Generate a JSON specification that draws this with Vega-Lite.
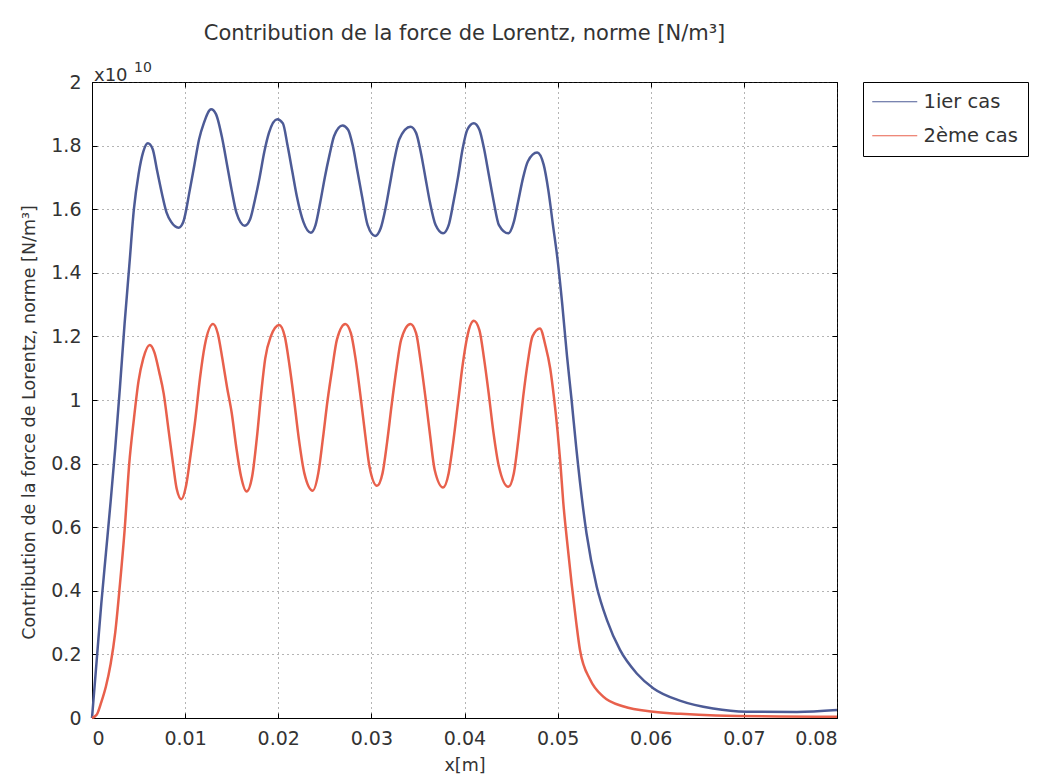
{
  "$schema": "https://vega.github.io/schema/vega-lite/v6.json",
  "width": 745,
  "height": 636,
  "autosize": "none",
  "padding": {"left": 92, "top": 82, "right": 201, "bottom": 59},
  "background": "white",
  "config": {
    "font": "DejaVu Sans",
    "view": {"stroke": "black", "strokeWidth": 1},
    "axis": {
      "domainColor": "black",
      "tickColor": "black",
      "labelColor": "#333",
      "titleColor": "#333",
      "labelFont": "DejaVu Sans",
      "titleFont": "DejaVu Sans",
      "labelFontSize": 19,
      "titleFontSize": 17.5,
      "titleFontWeight": "normal",
      "gridColor": "#444",
      "gridDash": [1, 4],
      "gridWidth": 1,
      "gridOpacity": 0.8
    }
  },
  "title": {
    "text": "Contribution de la force de Lorentz, norme [N/m³]",
    "font": "DejaVu Sans",
    "fontSize": 21,
    "fontWeight": "normal",
    "color": "#333",
    "anchor": "middle",
    "offset": 17
  },
  "data": {
    "values": [
      {"x": 0, "y": 0, "cas": "1ier cas"},
      {"x": 0.0005, "y": 0.18, "cas": "1ier cas"},
      {"x": 0.001, "y": 0.36, "cas": "1ier cas"},
      {"x": 0.0015, "y": 0.52, "cas": "1ier cas"},
      {"x": 0.002, "y": 0.68, "cas": "1ier cas"},
      {"x": 0.0025, "y": 0.85, "cas": "1ier cas"},
      {"x": 0.003, "y": 1.04, "cas": "1ier cas"},
      {"x": 0.0035, "y": 1.24, "cas": "1ier cas"},
      {"x": 0.004, "y": 1.42, "cas": "1ier cas"},
      {"x": 0.0045, "y": 1.6, "cas": "1ier cas"},
      {"x": 0.005, "y": 1.71, "cas": "1ier cas"},
      {"x": 0.0055, "y": 1.78, "cas": "1ier cas"},
      {"x": 0.006, "y": 1.807, "cas": "1ier cas"},
      {"x": 0.0065, "y": 1.79, "cas": "1ier cas"},
      {"x": 0.007, "y": 1.72, "cas": "1ier cas"},
      {"x": 0.0075, "y": 1.65, "cas": "1ier cas"},
      {"x": 0.008, "y": 1.59, "cas": "1ier cas"},
      {"x": 0.0085, "y": 1.56, "cas": "1ier cas"},
      {"x": 0.0093, "y": 1.542, "cas": "1ier cas"},
      {"x": 0.0098, "y": 1.56, "cas": "1ier cas"},
      {"x": 0.0105, "y": 1.66, "cas": "1ier cas"},
      {"x": 0.011, "y": 1.74, "cas": "1ier cas"},
      {"x": 0.0115, "y": 1.82, "cas": "1ier cas"},
      {"x": 0.012, "y": 1.87, "cas": "1ier cas"},
      {"x": 0.0128, "y": 1.914, "cas": "1ier cas"},
      {"x": 0.0133, "y": 1.9, "cas": "1ier cas"},
      {"x": 0.014, "y": 1.82, "cas": "1ier cas"},
      {"x": 0.0145, "y": 1.74, "cas": "1ier cas"},
      {"x": 0.015, "y": 1.66, "cas": "1ier cas"},
      {"x": 0.0155, "y": 1.59, "cas": "1ier cas"},
      {"x": 0.0164, "y": 1.548, "cas": "1ier cas"},
      {"x": 0.017, "y": 1.57, "cas": "1ier cas"},
      {"x": 0.0175, "y": 1.63, "cas": "1ier cas"},
      {"x": 0.018, "y": 1.7, "cas": "1ier cas"},
      {"x": 0.0185, "y": 1.78, "cas": "1ier cas"},
      {"x": 0.019, "y": 1.84, "cas": "1ier cas"},
      {"x": 0.0199, "y": 1.883, "cas": "1ier cas"},
      {"x": 0.0205, "y": 1.87, "cas": "1ier cas"},
      {"x": 0.021, "y": 1.8, "cas": "1ier cas"},
      {"x": 0.0215, "y": 1.72, "cas": "1ier cas"},
      {"x": 0.022, "y": 1.64, "cas": "1ier cas"},
      {"x": 0.0227, "y": 1.56, "cas": "1ier cas"},
      {"x": 0.0235, "y": 1.526, "cas": "1ier cas"},
      {"x": 0.024, "y": 1.55, "cas": "1ier cas"},
      {"x": 0.0245, "y": 1.62, "cas": "1ier cas"},
      {"x": 0.025, "y": 1.7, "cas": "1ier cas"},
      {"x": 0.0255, "y": 1.77, "cas": "1ier cas"},
      {"x": 0.026, "y": 1.83, "cas": "1ier cas"},
      {"x": 0.0269, "y": 1.863, "cas": "1ier cas"},
      {"x": 0.0275, "y": 1.85, "cas": "1ier cas"},
      {"x": 0.028, "y": 1.8, "cas": "1ier cas"},
      {"x": 0.0285, "y": 1.72, "cas": "1ier cas"},
      {"x": 0.029, "y": 1.64, "cas": "1ier cas"},
      {"x": 0.0296, "y": 1.55, "cas": "1ier cas"},
      {"x": 0.0304, "y": 1.516, "cas": "1ier cas"},
      {"x": 0.031, "y": 1.54, "cas": "1ier cas"},
      {"x": 0.0315, "y": 1.6, "cas": "1ier cas"},
      {"x": 0.032, "y": 1.68, "cas": "1ier cas"},
      {"x": 0.0325, "y": 1.76, "cas": "1ier cas"},
      {"x": 0.033, "y": 1.82, "cas": "1ier cas"},
      {"x": 0.0342, "y": 1.859, "cas": "1ier cas"},
      {"x": 0.0348, "y": 1.84, "cas": "1ier cas"},
      {"x": 0.0353, "y": 1.78, "cas": "1ier cas"},
      {"x": 0.0358, "y": 1.7, "cas": "1ier cas"},
      {"x": 0.0363, "y": 1.62, "cas": "1ier cas"},
      {"x": 0.0369, "y": 1.55, "cas": "1ier cas"},
      {"x": 0.0377, "y": 1.524, "cas": "1ier cas"},
      {"x": 0.0383, "y": 1.55, "cas": "1ier cas"},
      {"x": 0.0388, "y": 1.62, "cas": "1ier cas"},
      {"x": 0.0393, "y": 1.7, "cas": "1ier cas"},
      {"x": 0.0398, "y": 1.79, "cas": "1ier cas"},
      {"x": 0.0403, "y": 1.85, "cas": "1ier cas"},
      {"x": 0.041, "y": 1.87, "cas": "1ier cas"},
      {"x": 0.0416, "y": 1.85, "cas": "1ier cas"},
      {"x": 0.0421, "y": 1.79, "cas": "1ier cas"},
      {"x": 0.0426, "y": 1.71, "cas": "1ier cas"},
      {"x": 0.0431, "y": 1.63, "cas": "1ier cas"},
      {"x": 0.0437, "y": 1.55, "cas": "1ier cas"},
      {"x": 0.0447, "y": 1.524, "cas": "1ier cas"},
      {"x": 0.0453, "y": 1.56, "cas": "1ier cas"},
      {"x": 0.0458, "y": 1.63, "cas": "1ier cas"},
      {"x": 0.0463, "y": 1.7, "cas": "1ier cas"},
      {"x": 0.0468, "y": 1.75, "cas": "1ier cas"},
      {"x": 0.0478, "y": 1.778, "cas": "1ier cas"},
      {"x": 0.0485, "y": 1.74, "cas": "1ier cas"},
      {"x": 0.049, "y": 1.66, "cas": "1ier cas"},
      {"x": 0.0495, "y": 1.55, "cas": "1ier cas"},
      {"x": 0.05, "y": 1.44, "cas": "1ier cas"},
      {"x": 0.0505, "y": 1.3, "cas": "1ier cas"},
      {"x": 0.051, "y": 1.14, "cas": "1ier cas"},
      {"x": 0.0515, "y": 1.0, "cas": "1ier cas"},
      {"x": 0.052, "y": 0.85, "cas": "1ier cas"},
      {"x": 0.0531, "y": 0.581, "cas": "1ier cas"},
      {"x": 0.0542, "y": 0.413, "cas": "1ier cas"},
      {"x": 0.0553, "y": 0.308, "cas": "1ier cas"},
      {"x": 0.0567, "y": 0.214, "cas": "1ier cas"},
      {"x": 0.0585, "y": 0.14, "cas": "1ier cas"},
      {"x": 0.0603, "y": 0.093, "cas": "1ier cas"},
      {"x": 0.0632, "y": 0.054, "cas": "1ier cas"},
      {"x": 0.0667, "y": 0.03, "cas": "1ier cas"},
      {"x": 0.0703, "y": 0.02, "cas": "1ier cas"},
      {"x": 0.0757, "y": 0.019, "cas": "1ier cas"},
      {"x": 0.08, "y": 0.025, "cas": "1ier cas"},
      {"x": 0, "y": 0, "cas": "2ème cas"},
      {"x": 0.0005, "y": 0.01, "cas": "2ème cas"},
      {"x": 0.001, "y": 0.05, "cas": "2ème cas"},
      {"x": 0.0015, "y": 0.1, "cas": "2ème cas"},
      {"x": 0.002, "y": 0.17, "cas": "2ème cas"},
      {"x": 0.0025, "y": 0.27, "cas": "2ème cas"},
      {"x": 0.003, "y": 0.42, "cas": "2ème cas"},
      {"x": 0.0035, "y": 0.59, "cas": "2ème cas"},
      {"x": 0.004, "y": 0.8, "cas": "2ème cas"},
      {"x": 0.0045, "y": 0.94, "cas": "2ème cas"},
      {"x": 0.005, "y": 1.06, "cas": "2ème cas"},
      {"x": 0.0055, "y": 1.13, "cas": "2ème cas"},
      {"x": 0.0062, "y": 1.173, "cas": "2ème cas"},
      {"x": 0.0067, "y": 1.15, "cas": "2ème cas"},
      {"x": 0.0072, "y": 1.09, "cas": "2ème cas"},
      {"x": 0.0077, "y": 1.02, "cas": "2ème cas"},
      {"x": 0.0082, "y": 0.91, "cas": "2ème cas"},
      {"x": 0.0087, "y": 0.8, "cas": "2ème cas"},
      {"x": 0.0091, "y": 0.72, "cas": "2ème cas"},
      {"x": 0.0096, "y": 0.688, "cas": "2ème cas"},
      {"x": 0.0101, "y": 0.73, "cas": "2ème cas"},
      {"x": 0.0106, "y": 0.83, "cas": "2ème cas"},
      {"x": 0.0111, "y": 0.94, "cas": "2ème cas"},
      {"x": 0.0116, "y": 1.07, "cas": "2ème cas"},
      {"x": 0.0121, "y": 1.17, "cas": "2ème cas"},
      {"x": 0.013, "y": 1.239, "cas": "2ème cas"},
      {"x": 0.0135, "y": 1.21, "cas": "2ème cas"},
      {"x": 0.014, "y": 1.13, "cas": "2ème cas"},
      {"x": 0.0145, "y": 1.04, "cas": "2ème cas"},
      {"x": 0.015, "y": 0.96, "cas": "2ème cas"},
      {"x": 0.0155, "y": 0.85, "cas": "2ème cas"},
      {"x": 0.016, "y": 0.76, "cas": "2ème cas"},
      {"x": 0.0166, "y": 0.712, "cas": "2ème cas"},
      {"x": 0.0172, "y": 0.76, "cas": "2ème cas"},
      {"x": 0.0177, "y": 0.88, "cas": "2ème cas"},
      {"x": 0.0182, "y": 1.03, "cas": "2ème cas"},
      {"x": 0.0186, "y": 1.13, "cas": "2ème cas"},
      {"x": 0.0192, "y": 1.2, "cas": "2ème cas"},
      {"x": 0.0201, "y": 1.236, "cas": "2ème cas"},
      {"x": 0.0207, "y": 1.2, "cas": "2ème cas"},
      {"x": 0.0212, "y": 1.11, "cas": "2ème cas"},
      {"x": 0.0217, "y": 1.0, "cas": "2ème cas"},
      {"x": 0.0222, "y": 0.88, "cas": "2ème cas"},
      {"x": 0.0228, "y": 0.77, "cas": "2ème cas"},
      {"x": 0.0237, "y": 0.715, "cas": "2ème cas"},
      {"x": 0.0243, "y": 0.77, "cas": "2ème cas"},
      {"x": 0.0248, "y": 0.88, "cas": "2ème cas"},
      {"x": 0.0253, "y": 1.0, "cas": "2ème cas"},
      {"x": 0.0258, "y": 1.1, "cas": "2ème cas"},
      {"x": 0.0263, "y": 1.19, "cas": "2ème cas"},
      {"x": 0.0272, "y": 1.239, "cas": "2ème cas"},
      {"x": 0.0278, "y": 1.21, "cas": "2ème cas"},
      {"x": 0.0283, "y": 1.13, "cas": "2ème cas"},
      {"x": 0.0288, "y": 1.02, "cas": "2ème cas"},
      {"x": 0.0293, "y": 0.9, "cas": "2ème cas"},
      {"x": 0.0298, "y": 0.79, "cas": "2ème cas"},
      {"x": 0.0306, "y": 0.73, "cas": "2ème cas"},
      {"x": 0.0312, "y": 0.77, "cas": "2ème cas"},
      {"x": 0.0317, "y": 0.87, "cas": "2ème cas"},
      {"x": 0.0322, "y": 0.99, "cas": "2ème cas"},
      {"x": 0.0327, "y": 1.1, "cas": "2ème cas"},
      {"x": 0.0332, "y": 1.19, "cas": "2ème cas"},
      {"x": 0.0342, "y": 1.239, "cas": "2ème cas"},
      {"x": 0.0348, "y": 1.21, "cas": "2ème cas"},
      {"x": 0.0353, "y": 1.12, "cas": "2ème cas"},
      {"x": 0.0358, "y": 1.01, "cas": "2ème cas"},
      {"x": 0.0363, "y": 0.89, "cas": "2ème cas"},
      {"x": 0.0368, "y": 0.78, "cas": "2ème cas"},
      {"x": 0.0377, "y": 0.725, "cas": "2ème cas"},
      {"x": 0.0383, "y": 0.77, "cas": "2ème cas"},
      {"x": 0.0388, "y": 0.87, "cas": "2ème cas"},
      {"x": 0.0393, "y": 0.99, "cas": "2ème cas"},
      {"x": 0.0398, "y": 1.11, "cas": "2ème cas"},
      {"x": 0.0403, "y": 1.2, "cas": "2ème cas"},
      {"x": 0.041, "y": 1.249, "cas": "2ème cas"},
      {"x": 0.0416, "y": 1.22, "cas": "2ème cas"},
      {"x": 0.0421, "y": 1.13, "cas": "2ème cas"},
      {"x": 0.0426, "y": 1.02, "cas": "2ème cas"},
      {"x": 0.0431, "y": 0.9, "cas": "2ème cas"},
      {"x": 0.0437, "y": 0.79, "cas": "2ème cas"},
      {"x": 0.0447, "y": 0.727, "cas": "2ème cas"},
      {"x": 0.0453, "y": 0.77, "cas": "2ème cas"},
      {"x": 0.0458, "y": 0.88, "cas": "2ème cas"},
      {"x": 0.0463, "y": 1.01, "cas": "2ème cas"},
      {"x": 0.0468, "y": 1.12, "cas": "2ème cas"},
      {"x": 0.0473, "y": 1.2, "cas": "2ème cas"},
      {"x": 0.0481, "y": 1.225, "cas": "2ème cas"},
      {"x": 0.0487, "y": 1.17, "cas": "2ème cas"},
      {"x": 0.0492, "y": 1.1, "cas": "2ème cas"},
      {"x": 0.0496, "y": 1.01, "cas": "2ème cas"},
      {"x": 0.05, "y": 0.9, "cas": "2ème cas"},
      {"x": 0.0503, "y": 0.8, "cas": "2ème cas"},
      {"x": 0.0506, "y": 0.68, "cas": "2ème cas"},
      {"x": 0.051, "y": 0.56, "cas": "2ème cas"},
      {"x": 0.0515, "y": 0.423, "cas": "2ème cas"},
      {"x": 0.052, "y": 0.3, "cas": "2ème cas"},
      {"x": 0.0524, "y": 0.214, "cas": "2ème cas"},
      {"x": 0.0535, "y": 0.12, "cas": "2ème cas"},
      {"x": 0.0549, "y": 0.067, "cas": "2ème cas"},
      {"x": 0.0571, "y": 0.036, "cas": "2ème cas"},
      {"x": 0.0603, "y": 0.02, "cas": "2ème cas"},
      {"x": 0.0632, "y": 0.013, "cas": "2ème cas"},
      {"x": 0.067, "y": 0.008, "cas": "2ème cas"},
      {"x": 0.08, "y": 0.004, "cas": "2ème cas"}
    ]
  },
  "resolve": {"axis": {"x": "independent", "y": "independent"}},
  "layer": [
    {
      "mark": {"type": "line", "strokeWidth": 2.5, "interpolate": "monotone"},
      "encoding": {
        "x": {
          "field": "x",
          "type": "quantitative",
          "scale": {"domain": [0, 0.08], "nice": false},
          "axis": {
            "title": "x[m]",
            "values": [0, 0.01, 0.02, 0.03, 0.04, 0.05, 0.06, 0.07, 0.08],
            "format": "~g",
            "tickSize": -5,
            "labelPadding": 16,
            "titlePadding": 8
          }
        },
        "y": {
          "field": "y",
          "type": "quantitative",
          "scale": {"domain": [0, 2], "nice": false},
          "axis": {
            "title": "Contribution de la force de Lorentz, norme [N/m³]",
            "values": [0, 0.2, 0.4, 0.6, 0.8, 1, 1.2, 1.4, 1.6, 1.8, 2],
            "format": "~g",
            "tickSize": -5,
            "labelPadding": 16,
            "titlePadding": 12,
            "titleY": 340
          }
        },
        "color": {
          "field": "cas",
          "type": "nominal",
          "scale": {"domain": ["1ier cas", "2ème cas"], "range": ["#4d5b96", "#e8604c"]},
          "legend": {
            "title": null,
            "orient": "right",
            "offset": 21,
            "symbolType": "M-3,0H3",
            "symbolSize": 225,
            "symbolOffset": 12,
            "symbolStrokeWidth": 1.2,
            "labelFontSize": 19.5,
            "labelOffset": 19,
            "labelFont": "DejaVu Sans",
            "labelColor": "#333",
            "strokeColor": "black",
            "padding": 10,
            "rowPadding": 13,
            "fillColor": "white"
          }
        }
      }
    },
    {
      "mark": {"type": "point", "opacity": 0},
      "encoding": {
        "x": {
          "field": "x",
          "type": "quantitative",
          "axis": {
            "orient": "top",
            "values": [0, 0.01, 0.02, 0.03, 0.04, 0.05, 0.06, 0.07, 0.08],
            "labels": false,
            "title": null,
            "grid": false,
            "domain": false,
            "tickSize": -5
          }
        },
        "y": {
          "field": "y",
          "type": "quantitative",
          "axis": {
            "orient": "right",
            "values": [0, 0.2, 0.4, 0.6, 0.8, 1, 1.2, 1.4, 1.6, 1.8, 2],
            "labels": false,
            "title": null,
            "grid": false,
            "domain": false,
            "tickSize": -5
          }
        }
      }
    },
    {
      "data": {"values": [{"label": "x10"}]},
      "mark": {"type": "text", "align": "left", "baseline": "alphabetic", "dx": 2, "dy": -1, "fontSize": 18, "font": "DejaVu Sans", "color": "#333"},
      "encoding": {
        "text": {"field": "label"},
        "x": {"datum": 0, "type": "quantitative", "axis": null},
        "y": {"datum": 2, "type": "quantitative", "axis": null}
      }
    },
    {
      "data": {"values": [{"label": "10"}]},
      "mark": {"type": "text", "align": "left", "baseline": "alphabetic", "dx": 42, "dy": -10, "fontSize": 14, "font": "DejaVu Sans", "color": "#333"},
      "encoding": {
        "text": {"field": "label"},
        "x": {"datum": 0, "type": "quantitative", "axis": null},
        "y": {"datum": 2, "type": "quantitative", "axis": null}
      }
    }
  ]
}
